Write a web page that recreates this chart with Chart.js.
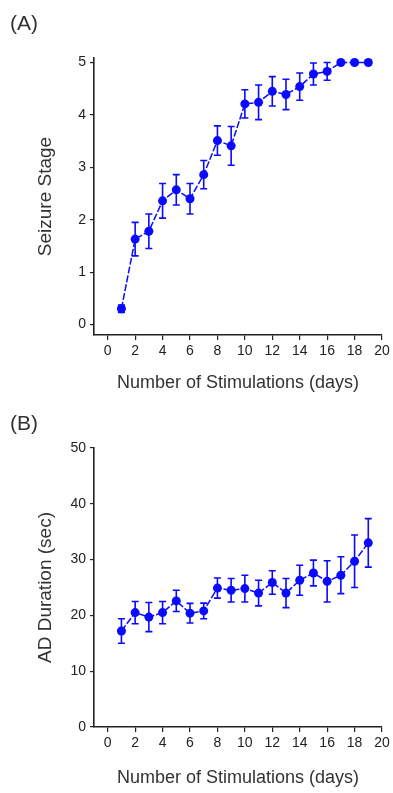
<!DOCTYPE html>
<html>
<head>
<meta charset="utf-8">
<script src="https://cdn.jsdelivr.net/npm/chart.js@4.4.0/dist/chart.umd.min.js"></script>
<style>
  body { margin: 0; background: #fff; font-family: 'Liberation Sans', Arial, sans-serif; }
  .panel { position: absolute; left: 0; width: 393px; }
  .tag { position: absolute; left: 10px; font-size: 21px; color: #333; }
</style>
</head>
<body>
<div class="panel" style="top:0;height:395px"><canvas id="chartA" width="393" height="395"></canvas></div>
<div class="tag" style="top:11px">(A)</div>
<div class="panel" style="top:395px;height:398px"><canvas id="chartB" width="393" height="398"></canvas></div>
<div class="tag" style="top:411px">(B)</div>

<script>
// stimulation days
var days = [1, 2, 3, 4, 5, 6, 7, 8, 9, 10, 11, 12, 13, 14, 15, 16, 17, 18, 19];
var xTicks = [0, 2, 4, 6, 8, 10, 12, 14, 16, 18, 20];

// (A) seizure stage, mean and error
var stageMean = [0.30, 1.63, 1.78, 2.36, 2.57, 2.40, 2.86, 3.51, 3.41, 4.21, 4.24, 4.45, 4.39, 4.54, 4.78, 4.83, 5.0, 5.0, 5.0];
var stageErr = [0.07, 0.32, 0.33, 0.33, 0.29, 0.29, 0.27, 0.28, 0.37, 0.27, 0.33, 0.28, 0.29, 0.26, 0.21, 0.17, 0, 0, 0];
var stageTicks = [0, 1, 2, 3, 4, 5];

// (B) AD duration (sec), mean and error
var adMean = [17.2, 20.5, 19.7, 20.5, 22.6, 20.4, 20.8, 24.9, 24.5, 24.8, 24.0, 25.9, 24.0, 26.3, 27.6, 26.1, 27.2, 29.7, 33.0];
var adErr = [2.2, 2.0, 2.6, 2.0, 1.9, 1.75, 1.4, 1.8, 2.1, 2.4, 2.3, 2.1, 2.6, 2.7, 2.3, 3.7, 3.3, 4.7, 4.35];
var adTicks = [0, 10, 20, 30, 40, 50];

var blue = '#0a0aff';
var axisCol = '#222';

Chart.defaults.font.family = "'Liberation Sans', Arial, sans-serif";
Chart.defaults.color = '#222';

// draws the error bars through the chart scales
var errorBars = {
    id: 'errorBars',
    afterDatasetsDraw: function (chart, args, opts) {
        var ctx = chart.ctx;
        var xs = chart.scales.x, ys = chart.scales.y;
        var pts = chart.data.datasets[0].data;
        ctx.save();
        ctx.strokeStyle = blue;
        ctx.lineWidth = 1.6;
        for (var i = 0; i < pts.length; i++) {
            var px = xs.getPixelForValue(pts[i].x);
            var top = ys.getPixelForValue(pts[i].y + opts.err[i]);
            var bot = ys.getPixelForValue(pts[i].y - opts.err[i]);
            ctx.beginPath();
            ctx.moveTo(px, top); ctx.lineTo(px, bot);
            ctx.moveTo(px - 3.5, top); ctx.lineTo(px + 3.5, top);
            ctx.moveTo(px - 3.5, bot); ctx.lineTo(px + 3.5, bot);
            ctx.stroke();
        }
        ctx.restore();
    }
};

function makeChart(id, mean, err, yMin, yMax, yTicks, yTitle, layoutPad, xHeight, titlePadY, titlePadX) {
    var pts = days.map(function (d, i) { return { x: d, y: mean[i] }; });
    return new Chart(id, {
        type: 'line',
        data: {
            datasets: [{
                data: pts,
                borderColor: blue,
                backgroundColor: blue,
                borderWidth: 1.5,
                borderDash: [7, 2],
                pointRadius: 4.5,
                pointBorderWidth: 0,
                pointBackgroundColor: blue,
                tension: 0
            }]
        },
        options: {
            responsive: false,
            animation: false,
            layout: { padding: layoutPad },
            plugins: {
                legend: { display: false },
                tooltip: { enabled: false },
                errorBars: { err: err }
            },
            scales: {
                x: {
                    type: 'linear',
                    min: -1,
                    max: 20,
                    afterBuildTicks: function (s) { s.ticks = xTicks.map(function (v) { return { value: v }; }); },
                    afterFit: function (s) { s.height = xHeight; },
                    grid: { drawOnChartArea: false, drawTicks: true, tickLength: 5, color: axisCol, lineWidth: 1.2 },
                    border: { display: true, color: axisCol, width: 1.6 },
                    ticks: { font: { size: 14 }, padding: 3, maxRotation: 0 },
                    title: { display: true, text: 'Number of Stimulations (days)', font: { size: 18 }, color: '#333', padding: { top: 0, bottom: titlePadX } }
                },
                y: {
                    min: yMin,
                    max: yMax,
                    afterBuildTicks: function (s) { s.ticks = yTicks.map(function (v) { return { value: v }; }); },
                    afterFit: function (s) { s.width = 94; },
                    grid: { drawOnChartArea: false, drawTicks: true, tickLength: 4, color: axisCol, lineWidth: 1.2 },
                    border: { display: true, color: axisCol, width: 1.6 },
                    ticks: { font: { size: 14 }, padding: 4 },
                    title: { display: true, text: yTitle, font: { size: 19 }, color: '#333', padding: { top: titlePadY, bottom: 0 } }
                }
            }
        },
        plugins: [errorBars]
    });
}

makeChart('chartA', stageMean, stageErr, -0.2, 5.086, stageTicks, 'Seizure Stage',
    { top: 58, right: 11, left: 0, bottom: 0 }, 60, 34, 1);
makeChart('chartB', adMean, adErr, 0, 50, adTicks, 'AD Duration (sec)',
    { top: 53, right: 11, left: 0, bottom: 0 }, 66, 34, 4);
</script>
</body>
</html>
